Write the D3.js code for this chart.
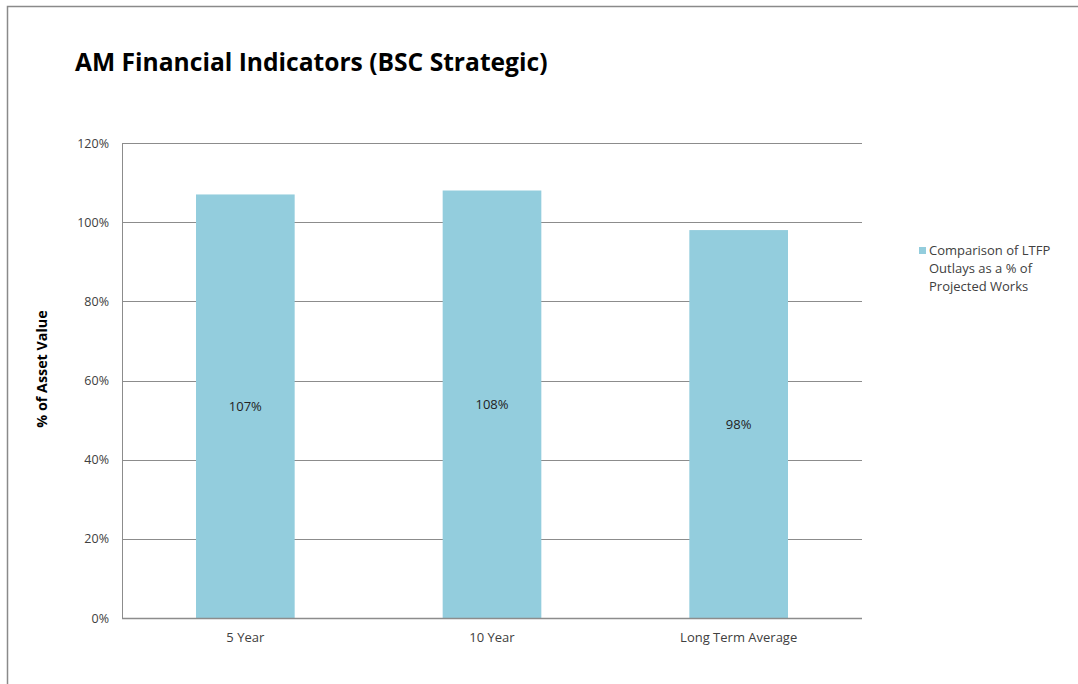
<!DOCTYPE html>
<html>
<head>
<meta charset="utf-8">
<script src="https://cdn.jsdelivr.net/npm/d3@7"></script>
<style>
  html, body { margin: 0; padding: 0; background: #fff; }
  svg { display: block; }
  text { font-family: "Open Sans", "Noto Sans", sans-serif; }
</style>
</head>
<body>
<svg id="chart" width="1078" height="684"></svg>
<script>
const categories = ["5 Year", "10 Year", "Long Term Average"];
const values = [107, 108, 98];
const yTicks = [0, 20, 40, 60, 80, 100, 120];
const seriesName = ["Comparison of LTFP", "Outlays as a % of", "Projected Works"];
const title = "AM Financial Indicators (BSC Strategic)";
const yTitle = "% of Asset Value";

const svg = d3.select("#chart");
const barColor = "#93CDDD";
const gridColor = "#8c8c8c";
const textColor = "#404040";

// outer frame
svg.append("path")
  .attr("d", "M7.5,684 L7.5,6.5 L1078,6.5")
  .attr("fill", "none").attr("stroke", "#8a8a8a").attr("stroke-width", 1.5);

const plot = { left: 122, right: 862, top: 143, bottom: 618 };

const x = d3.scaleBand().domain(categories)
  .range([plot.left, plot.right]).paddingInner(0.6).paddingOuter(0.3);
const y = d3.scaleLinear().domain([0, 120]).range([plot.bottom, plot.top]);

// gridlines
svg.append("g").selectAll("line").data(yTicks.filter(d => d > 0)).join("line")
  .attr("x1", plot.left).attr("x2", plot.right)
  .attr("y1", d => Math.round(y(d)) + 0.5).attr("y2", d => Math.round(y(d)) + 0.5)
  .attr("stroke", gridColor).attr("stroke-width", 1);

// y tick labels
svg.append("g").selectAll("text").data(yTicks).join("text")
  .attr("x", 109).attr("y", d => y(d) + 4.5)
  .attr("text-anchor", "end")
  .attr("font-size", 12.5).attr("fill", textColor)
  .text(d => d + "%");

// bars
svg.append("g").selectAll("rect").data(values).join("rect")
  .attr("x", (d, i) => x(categories[i]))
  .attr("width", x.bandwidth())
  .attr("y", d => y(d))
  .attr("height", d => y(0) - y(d))
  .attr("fill", barColor);

// data labels
svg.append("g").selectAll("text").data(values).join("text")
  .attr("x", (d, i) => x(categories[i]) + x.bandwidth() / 2)
  .attr("y", d => (y(d) + y(0)) / 2 + 5)
  .attr("text-anchor", "middle")
  .attr("font-size", 13).attr("fill", "#222")
  .text(d => d + "%");

// axes lines
svg.append("line").attr("x1", plot.left + 0.5).attr("x2", plot.left + 0.5)
  .attr("y1", plot.top).attr("y2", plot.bottom)
  .attr("stroke", gridColor).attr("stroke-width", 1);
svg.append("line").attr("x1", plot.left).attr("x2", plot.right)
  .attr("y1", plot.bottom + 0.5).attr("y2", plot.bottom + 0.5)
  .attr("stroke", gridColor).attr("stroke-width", 1.5);

// category labels
svg.append("g").selectAll("text").data(categories).join("text")
  .attr("x", d => x(d) + x.bandwidth() / 2)
  .attr("y", 642)
  .attr("text-anchor", "middle")
  .attr("font-size", 13).attr("fill", textColor)
  .text(d => d);

// title
svg.append("text").attr("x", 75).attr("y", 71)
  .attr("font-size", 24.6).attr("font-weight", "bold").attr("fill", "#000")
  .text(title);

// y axis title
svg.append("text")
  .attr("transform", `translate(47,369) rotate(-90)`)
  .attr("text-anchor", "middle")
  .attr("font-size", 14.3).attr("font-weight", "bold").attr("fill", "#000")
  .text(yTitle);

// legend
const lg = svg.append("g").attr("transform", "translate(919,246)");
lg.append("rect").attr("x", 0).attr("y", 1).attr("width", 7).attr("height", 7).attr("fill", barColor);
lg.append("g").selectAll("text").data(seriesName).join("text")
  .attr("x", 10).attr("y", (d, i) => 9 + i * 18)
  .attr("font-size", 13).attr("fill", textColor)
  .text(d => d);
</script>
</body>
</html>
